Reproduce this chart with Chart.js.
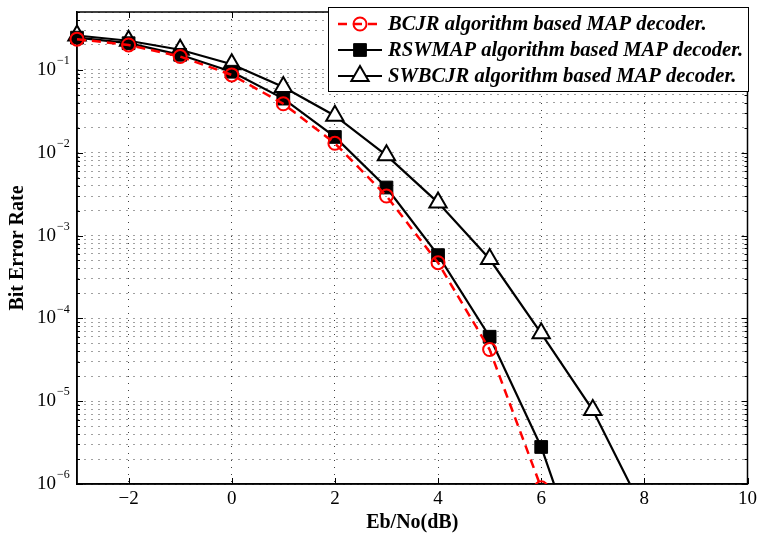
<!DOCTYPE html>
<html lang="en">
<head>
  <meta charset="utf-8" />
  <title>BER vs Eb/No</title>
  <style>
html, body { margin: 0; padding: 0; background: #fff; }
#chartBox { width: 761px; height: 540px; }
  </style>
</head>
<body>
  <div id="chartBox">
    <canvas id="berChart"></canvas>
  </div>
  <script src="https://cdn.jsdelivr.net/npm/chart.js@4"></script>
  <script>
// Eb/No points (dB) and simulated bit error rates per decoder
const ebNo = [-3, -2, -1, 0, 1, 2, 3, 4, 5, 6, 7, 8];
const berBCJR = [0.235, 0.20, 0.145, 0.087, 0.039, 0.013, 0.0030, 4.7e-4, 4.2e-5, 9e-7];
const berRSWMAP = [0.245, 0.21, 0.152, 0.095, 0.045, 0.0155, 0.0038, 5.8e-4, 6.0e-5, 2.8e-6, 4.5e-8];
const berSWBCJR = [0.26, 0.225, 0.175, 0.117, 0.062, 0.028, 0.0093, 0.0025, 5.2e-4, 6.6e-5, 7.8e-6, 4.5e-7];
const seriesNames = [
  'BCJR algorithm based MAP decoder.',
  'RSWMAP algorithm based MAP decoder.',
  'SWBCJR algorithm based MAP decoder.'
];
const xTicks = [-2, 0, 2, 4, 6, 8, 10];
const yDecades = [-6, -5, -4, -3, -2, -1];

const FONT = '"Liberation Serif", "Times New Roman", serif';
const GRID = 'rgba(0,0,0,0.75)';

function points(ys) {
  return ys.map((y, i) => ({x: ebNo[i], y: y}));
}

// 10^n labels on the y axis (superscript exponent)
const yLabelPlugin = {
  id: 'yLabels',
  afterDraw(chart) {
    const ctx = chart.ctx, ys = chart.scales.y;
    ctx.save();
    ctx.fillStyle = '#000';
    for (const e of yDecades) {
      const py = ys.getPixelForValue(Math.pow(10, e));
      ctx.font = '19px ' + FONT;
      ctx.textAlign = 'right';
      ctx.textBaseline = 'middle';
      ctx.fillText('10', 56, py);
      ctx.font = '12px ' + FONT;
      ctx.textAlign = 'left';
      ctx.fillText('\u2212' + Math.abs(e), 57, py - 9);
    }
    ctx.restore();
  }
};

// box round the axes plus inward tick marks on all four sides
const framePlugin = {
  id: 'frame',
  beforeDatasetsDraw(chart) {
    const ctx = chart.ctx, a = chart.chartArea;
    const xs = chart.scales.x, ys = chart.scales.y;
    ctx.save();
    ctx.strokeStyle = '#000';
    ctx.lineWidth = 1;
    ctx.beginPath();
    for (const t of xs.ticks) {
      const px = Math.round(xs.getPixelForValue(t.value)) + 0.5;
      ctx.moveTo(px, a.bottom); ctx.lineTo(px, a.bottom - 6);
      ctx.moveTo(px, a.top); ctx.lineTo(px, a.top + 6);
    }
    for (const t of ys.ticks) {
      const py = Math.round(ys.getPixelForValue(t.value)) + 0.5;
      const len = t.major ? 6 : 3;
      ctx.moveTo(a.left, py); ctx.lineTo(a.left + len, py);
      ctx.moveTo(a.right, py); ctx.lineTo(a.right - len, py);
    }
    ctx.stroke();
    ctx.lineWidth = 1.5;
    ctx.strokeRect(a.left, a.top, a.right - a.left, a.bottom - a.top);
    ctx.restore();
  }
};

// legend box in the top right corner, styled from the datasets
const legendPlugin = {
  id: 'boxLegend',
  afterDraw(chart) {
    const ctx = chart.ctx;
    const bx = 328, by = 7, bw = 420, bh = 84;
    ctx.save();
    ctx.fillStyle = '#fff';
    ctx.fillRect(bx, by, bw, bh);
    ctx.strokeStyle = '#000';
    ctx.lineWidth = 1;
    ctx.strokeRect(bx + 0.5, by + 0.5, bw, bh);
    chart.data.datasets.forEach((ds, i) => {
      const y = 24 + i * 26;
      ctx.save();
      ctx.strokeStyle = ds.borderColor;
      ctx.lineWidth = ds.borderWidth;
      ctx.setLineDash(ds.borderDash || []);
      ctx.beginPath();
      ctx.moveTo(338, y); ctx.lineTo(382, y);
      ctx.stroke();
      ctx.setLineDash([]);
      ctx.fillStyle = ds.pointBackgroundColor;
      ctx.strokeStyle = ds.pointBorderColor;
      ctx.lineWidth = ds.pointBorderWidth;
      Chart.helpers.drawPoint(ctx, {
        pointStyle: ds.pointStyle,
        radius: ds.pointRadius,
        rotation: 0,
        borderWidth: ds.pointBorderWidth
      }, 360, y);
      ctx.restore();
      ctx.fillStyle = '#000';
      ctx.font = 'italic bold 20.6px ' + FONT;
      ctx.textAlign = 'left';
      ctx.textBaseline = 'middle';
      ctx.fillText(seriesNames[i], 388, y + 1);
    });
    ctx.restore();
  }
};

const clipBox = {left: 15, top: 15, right: 15, bottom: 0};

const config = {
  type: 'scatter',
  data: {
    datasets: [{
      label: seriesNames[0],
      data: points(berBCJR),
      showLine: true,
      borderColor: '#ff0000',
      borderWidth: 2.5,
      borderDash: [9, 6],
      pointStyle: 'circle',
      pointRadius: 6.5,
      pointBorderWidth: 2,
      pointBorderColor: '#ff0000',
      pointBackgroundColor: 'rgba(255,255,255,0)',
      tension: 0,
      clip: clipBox
    }, {
      label: seriesNames[1],
      data: points(berRSWMAP),
      showLine: true,
      borderColor: '#000',
      borderWidth: 2.2,
      pointStyle: 'rect',
      pointRadius: 9,
      pointBorderWidth: 1,
      pointBorderColor: '#000',
      pointBackgroundColor: '#000',
      tension: 0,
      clip: clipBox
    }, {
      label: seriesNames[2],
      data: points(berSWBCJR),
      showLine: true,
      borderColor: '#000',
      borderWidth: 2.2,
      pointStyle: 'triangle',
      pointRadius: 10,
      pointBorderWidth: 2,
      pointBorderColor: '#000',
      pointBackgroundColor: '#fff',
      tension: 0,
      clip: clipBox
    }]
  },
  options: {
    responsive: true,
    maintainAspectRatio: false,
    animation: false,
    devicePixelRatio: 1,
    layout: {padding: {top: 6, right: 10, left: 0, bottom: 0}},
    plugins: {
      legend: {display: false},
      tooltip: {enabled: false}
    },
    scales: {
      x: {
        type: 'linear',
        position: 'bottom',
        min: -3,
        max: 10,
        afterBuildTicks: function (scale) {
          scale.ticks = xTicks.map(v => ({value: v}));
        },
        afterFit: function (scale) { scale.height = 56; },
        ticks: {
          color: '#000',
          font: {family: FONT, size: 19},
          padding: 4,
          maxRotation: 0,
          autoSkip: false,
          callback: function (v) {
            return v < 0 ? '\u2212' + (-v) : String(v);
          }
        },
        grid: {color: GRID, lineWidth: 1, drawTicks: false},
        border: {display: true, color: '#000', width: 1.5, dash: [1, 6]},
        title: {
          display: true,
          text: 'Eb/No(dB)',
          color: '#000',
          font: {family: FONT, size: 20, weight: 'bold'},
          padding: {top: 0, bottom: 5}
        }
      },
      y: {
        type: 'logarithmic',
        position: 'left',
        min: 1e-6,
        max: 0.5,
        afterBuildTicks: function (scale) {
          const t = [];
          for (const e of yDecades) {
            for (let m = 1; m <= 9; m++) {
              const v = m * Math.pow(10, e);
              if (v <= 0.5) t.push({value: v, major: m === 1});
            }
          }
          scale.ticks = t;
        },
        afterFit: function (scale) { scale.width = 77; },
        ticks: {display: false},
        grid: {color: GRID, lineWidth: 1, drawTicks: false},
        border: {display: true, color: '#000', width: 1.5, dash: [1, 6]},
        title: {
          display: true,
          text: 'Bit Error Rate',
          color: '#000',
          font: {family: FONT, size: 20, weight: 'bold'},
          padding: {top: 6, bottom: 0}
        }
      }
    }
  },
  plugins: [framePlugin, yLabelPlugin, legendPlugin]
};

const chart = new Chart(document.getElementById('berChart'), config);
  </script>
</body>
</html>
